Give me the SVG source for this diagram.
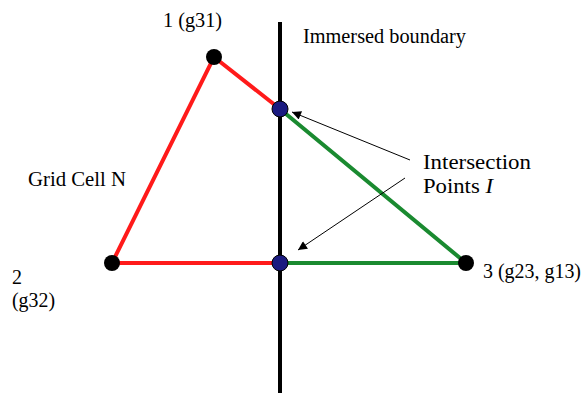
<svg xmlns="http://www.w3.org/2000/svg" width="587" height="395" viewBox="0 0 587 395">
<defs>
<marker id="ah" viewBox="0 0 10 10" refX="10" refY="5" markerWidth="12" markerHeight="9" markerUnits="userSpaceOnUse" orient="auto"><path d="M0,0 L10,5 L0,10 z" fill="#000"/></marker>
<style>
.red{stroke:#ff1a1a;stroke-width:4;fill:none}
.grn{stroke:#1a8a30;stroke-width:4;fill:none}
.vtx{fill:#000}
.ip{fill:#1a1a80;stroke:#000;stroke-width:1}
.arr{stroke:#000;stroke-width:1;fill:none;marker-end:url(#ah)}
.t{font-family:'Liberation Serif','Times New Roman','DejaVu Serif',serif;font-size:20px;fill:#000}
</style>
</defs>
<rect width="587" height="395" fill="#fff"/>
<g id="connectors">
<line x1="280" y1="22" x2="280" y2="393" stroke="#000" stroke-width="4"/>
<polyline class="red" points="280,109 214,57 112,263 280,263"/>
<polyline class="grn" points="280,109 466,263 280,263"/>
<line class="arr" x1="410" y1="160" x2="292" y2="112"/>
<line class="arr" x1="405" y1="178" x2="298" y2="250"/>
</g>
<g id="n1"><circle class="vtx" cx="214" cy="57" r="8"/><text class="t" x="163" y="27" textLength="59" lengthAdjust="spacingAndGlyphs">1 (g31)</text></g>
<g id="n2"><circle class="vtx" cx="112" cy="263" r="8"/><text class="t" x="12" y="284">2</text><text class="t" x="12" y="307" textLength="43" lengthAdjust="spacingAndGlyphs">(g32)</text></g>
<g id="n3"><circle class="vtx" cx="466" cy="263" r="8"/><text class="t" x="483" y="278" textLength="98" lengthAdjust="spacingAndGlyphs">3 (g23, g13)</text></g>
<g id="i1"><circle class="ip" cx="280" cy="109" r="8"/></g>
<g id="i2"><circle class="ip" cx="280" cy="263" r="8"/></g>
<g id="boundary"><text class="t" x="303" y="43" textLength="163" lengthAdjust="spacingAndGlyphs">Immersed boundary</text></g>
<g id="cell"><text class="t" x="28" y="186" textLength="98" lengthAdjust="spacingAndGlyphs">Grid Cell N</text></g>
<g id="ilabel"><text class="t" x="423" y="169" textLength="108" lengthAdjust="spacingAndGlyphs">Intersection</text><text class="t" x="423" y="193" textLength="70" lengthAdjust="spacingAndGlyphs">Points <tspan font-style="italic">I</tspan></text></g>
</svg>
